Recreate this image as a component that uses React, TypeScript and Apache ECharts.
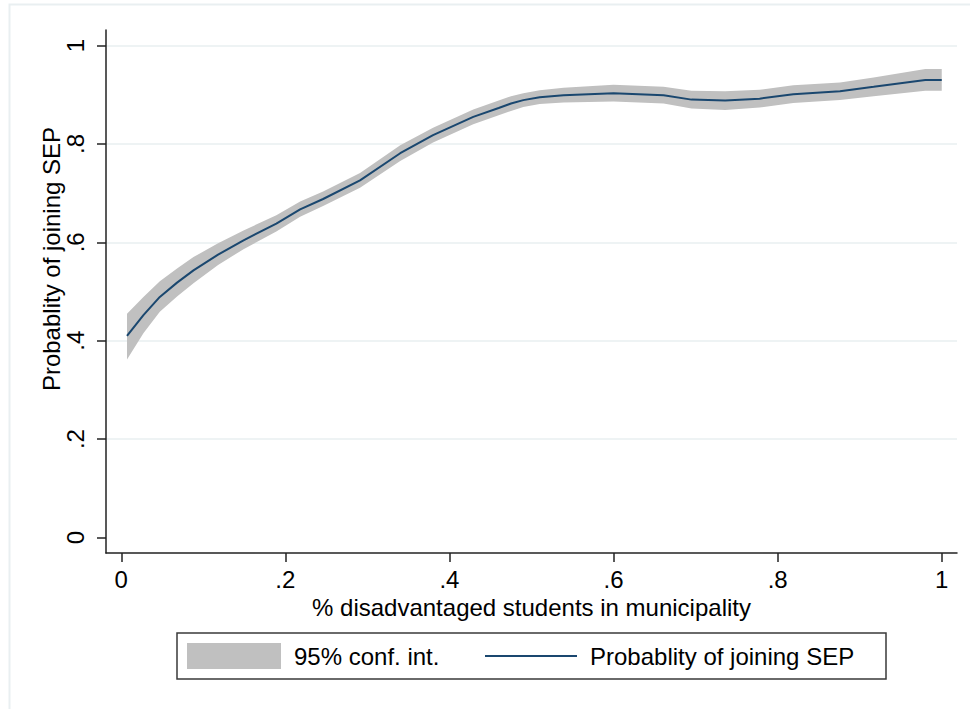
import React, { useEffect, useRef } from "react";
import * as echarts from "echarts";

// share of disadvantaged students in municipality
const xValues = [0.007, 0.027, 0.047, 0.068, 0.088, 0.118, 0.149, 0.189, 0.218, 0.246, 0.291, 0.34, 0.38, 0.429, 0.46, 0.475, 0.49, 0.51, 0.539, 0.6, 0.661, 0.695, 0.736, 0.778, 0.819, 0.876, 0.917, 0.98, 1.0];
// predicted probability of joining SEP
const probValues = [0.41, 0.452, 0.489, 0.518, 0.543, 0.575, 0.604, 0.638, 0.667, 0.688, 0.726, 0.781, 0.818, 0.855, 0.873, 0.882, 0.889, 0.895, 0.899, 0.903, 0.899, 0.89, 0.888, 0.892, 0.901, 0.907, 0.916, 0.93, 0.93];
// 95% confidence interval bounds
const ciLower = [0.362, 0.415, 0.459, 0.49, 0.517, 0.554, 0.586, 0.622, 0.652, 0.674, 0.711, 0.765, 0.803, 0.84, 0.858, 0.867, 0.875, 0.881, 0.884, 0.886, 0.882, 0.872, 0.869, 0.874, 0.883, 0.889, 0.897, 0.908, 0.908];
const ciUpper = [0.455, 0.489, 0.521, 0.547, 0.57, 0.598, 0.624, 0.655, 0.683, 0.703, 0.741, 0.797, 0.833, 0.87, 0.888, 0.897, 0.903, 0.909, 0.914, 0.92, 0.916, 0.908, 0.907, 0.91, 0.919, 0.925, 0.935, 0.952, 0.952];

const xTicks = [0, 0.2, 0.4, 0.6, 0.8, 1];
const yTicks = [0, 0.2, 0.4, 0.6, 0.8, 1];

const xTitle = "% disadvantaged students in municipality";
const yTitle = "Probablity of joining SEP";
const legendCI = "95% conf. int.";
const legendLine = "Probablity of joining SEP";

const FONT = "'Liberation Sans', Arial, Helvetica, sans-serif";
const LINE_COLOR = "#1a476f";
const BAND_COLOR = "#c0c0c0";
const GRID_COLOR = "#e8eff1";

const fmt = (v: number) => (v === 0 ? "0" : v === 1 ? "1" : v.toFixed(1).replace(/^0/, ""));

export default function App() {
  const ref = useRef<HTMLDivElement>(null);
  useEffect(() => {
    if (!ref.current) return;
    const chart = echarts.init(ref.current, null, { renderer: "svg" });
    const bandData = xValues.map((x, i) => [x, ciLower[i], ciUpper[i]]);
    const lineData = xValues.map((x, i) => [x, probValues[i]]);
    chart.setOption({
      animation: false,
      backgroundColor: "#ffffff",
      textStyle: { fontFamily: FONT },
      grid: { left: 106, right: 13, top: 30, bottom: 156, containLabel: false },
      xAxis: {
        type: "value",
        min: -0.0186,
        max: 1.0186,
        name: xTitle,
        nameLocation: "middle",
        nameGap: 41,
        nameTextStyle: { fontSize: 24, color: "#000", fontFamily: FONT },
        axisLine: { show: true, onZero: false, lineStyle: { color: "#222", width: 1.5 } },
        axisTick: { show: true, length: 9, customValues: xTicks, lineStyle: { color: "#222", width: 1.5 } },
        axisLabel: { customValues: xTicks, formatter: fmt, fontSize: 24, color: "#000", margin: 14, fontFamily: FONT },
        splitLine: { show: false },
      },
      yAxis: {
        type: "value",
        min: -0.0315,
        max: 1.0315,
        axisLine: { show: true, onZero: false, lineStyle: { color: "#222", width: 1.5 } },
        axisTick: { show: true, length: 9, customValues: yTicks, lineStyle: { color: "#222", width: 1.5 } },
        axisLabel: { customValues: yTicks, formatter: fmt, fontSize: 24, color: "#000", margin: 19, rotate: 90, fontFamily: FONT },
        splitLine: { show: true, showMinLine: false, showMaxLine: true, lineStyle: { color: GRID_COLOR, width: 1.5 } },
      },
      series: [
        {
          name: legendCI,
          type: "custom",
          data: bandData,
          encode: { x: 0, y: [1, 2] },
          silent: true,
          clip: true,
          z: 1,
          renderItem: (params: any, api: any) => {
            if (params.dataIndex !== 0) return null;
            const upper = bandData.map((d) => api.coord([d[0], d[2]]));
            const lower = bandData.map((d) => api.coord([d[0], d[1]])).reverse();
            return {
              type: "polygon",
              shape: { points: upper.concat(lower) },
              style: { fill: BAND_COLOR, stroke: "none" },
            };
          },
        },
        {
          name: legendLine,
          type: "line",
          data: lineData,
          symbol: "none",
          lineStyle: { color: LINE_COLOR, width: 2 },
          z: 3,
        },
      ],
      graphic: [
        {
          type: "rect",
          shape: { x: 9.5, y: 4.5, width: 1000, height: 800 },
          style: { fill: "none", stroke: "#e9eff1", lineWidth: 2 },
          silent: true,
          z: -10,
        },
        {
          type: "text",
          x: 51,
          y: 259,
          rotation: Math.PI / 2,
          style: { text: yTitle, font: `24px ${FONT}`, fill: "#000", textAlign: "center", textVerticalAlign: "middle" },
        },
        {
          type: "rect",
          shape: { x: 177, y: 633, width: 709, height: 46 },
          style: { fill: "#fff", stroke: "#3a3a3a", lineWidth: 1.5 },
        },
        {
          type: "rect",
          shape: { x: 187, y: 643, width: 94, height: 26 },
          style: { fill: BAND_COLOR },
        },
        {
          type: "text",
          x: 294,
          y: 656,
          style: { text: legendCI, font: `24px ${FONT}`, fill: "#000", textAlign: "left", textVerticalAlign: "middle" },
        },
        {
          type: "line",
          shape: { x1: 485, y1: 656, x2: 577, y2: 656 },
          style: { stroke: LINE_COLOR, lineWidth: 2 },
        },
        {
          type: "text",
          x: 590,
          y: 656,
          style: { text: legendLine, font: `24px ${FONT}`, fill: "#000", textAlign: "left", textVerticalAlign: "middle" },
        },
      ],
    });
    return () => chart.dispose();
  }, []);
  return <div ref={ref} style={{ position: "fixed", left: 0, top: 0, width: 970, height: 709 }} />;
}
